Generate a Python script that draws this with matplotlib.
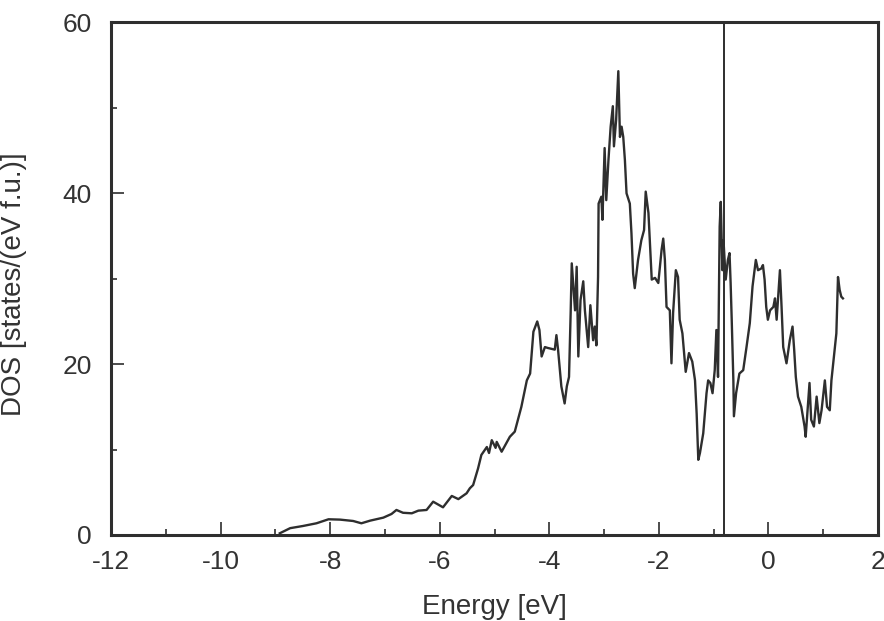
import matplotlib
matplotlib.use('Agg')
from matplotlib import pyplot as plt
from matplotlib.ticker import MultipleLocator

# values
energy = [-8.92, -8.73, -8.50, -8.25, -8.03, -7.82, -7.58, -7.43, -7.27, -7.03,
          -6.88, -6.79, -6.67, -6.51, -6.39, -6.24, -6.12, -5.94, -5.78, -5.66,
          -5.51, -5.45, -5.39, -5.30, -5.24, -5.14, -5.10, -5.05, -4.98, -4.96,
          -4.87, -4.72, -4.63, -4.51, -4.41, -4.35, -4.29, -4.22, -4.18, -4.14,
          -4.08, -4.03, -3.90, -3.87, -3.84, -3.78, -3.72, -3.68, -3.64, -3.61,
          -3.59, -3.53, -3.50, -3.47, -3.43, -3.38, -3.35, -3.29, -3.25, -3.20,
          -3.17, -3.14, -3.11, -3.10, -3.05, -3.03, -2.99, -2.96, -2.92, -2.88,
          -2.84, -2.82, -2.78, -2.74, -2.71, -2.68, -2.65, -2.62, -2.59, -2.53,
          -2.50, -2.47, -2.44, -2.38, -2.32, -2.27, -2.24, -2.19, -2.16, -2.13,
          -2.07, -2.01, -1.95, -1.92, -1.89, -1.86, -1.80, -1.77, -1.74, -1.69,
          -1.65, -1.62, -1.57, -1.51, -1.45, -1.39, -1.34, -1.31, -1.28, -1.25,
          -1.19, -1.13, -1.10, -1.06, -1.02, -0.98, -0.95, -0.92, -0.89, -0.87,
          -0.84, -0.82, -0.78, -0.74, -0.71, -0.69, -0.67, -0.64, -0.63, -0.59,
          -0.53, -0.46, -0.40, -0.34, -0.29, -0.23, -0.19, -0.13, -0.10, -0.07,
          -0.04, -0.01, 0.03, 0.09, 0.12, 0.15, 0.21, 0.24, 0.27, 0.33,
          0.39, 0.44, 0.47, 0.50, 0.54, 0.60, 0.66, 0.68, 0.72, 0.75,
          0.78, 0.83, 0.88, 0.93, 0.97, 1.03, 1.07, 1.12, 1.15, 1.21,
          1.24, 1.27, 1.30, 1.33, 1.36]
dos = [0.2, 0.8, 1.05, 1.37, 1.84, 1.8, 1.64, 1.37, 1.68, 2.03,
       2.46, 2.93, 2.6, 2.54, 2.85, 2.93, 3.9, 3.24, 4.57, 4.2,
       4.88, 5.47, 5.85, 7.8, 9.37, 10.3, 9.6, 11.1, 10.2, 10.9,
       9.75, 11.5, 12.1, 15.0, 18.1, 18.9, 23.8, 25.0, 24.0, 20.9,
       22.0, 21.9, 21.7, 23.4, 21.7, 17.4, 15.4, 17.4, 18.5, 26.0,
       31.8, 26.3, 31.4, 20.9, 27.5, 29.7, 26.3, 22.0, 26.9, 22.8,
       24.4, 22.2, 30.2, 38.8, 39.6, 36.9, 45.3, 39.2, 43.9, 47.8,
       50.2, 45.5, 48.6, 54.3, 46.6, 47.8, 46.6, 43.9, 40.0, 38.8,
       35.3, 30.6, 28.9, 32.2, 34.5, 35.7, 40.2, 37.7, 33.8, 29.9,
       30.1, 29.5, 33.4, 34.7, 32.2, 26.7, 26.3, 20.1, 26.0, 31.0,
       30.2, 25.2, 23.6, 19.1, 21.3, 20.3, 18.1, 14.2, 8.8, 9.6,
       11.9, 16.6, 18.1, 17.8, 16.6, 19.3, 24.0, 18.5, 36.1, 39.0,
       31.0, 34.5, 29.9, 32.2, 33.0, 29.5, 25.2, 18.1, 13.9, 16.6,
       18.9, 19.3, 22.0, 24.8, 29.1, 32.2, 31.0, 31.2, 31.6, 29.9,
       26.7, 25.2, 26.3, 26.7, 27.7, 25.2, 31.0, 26.7, 22.0, 20.1,
       22.8, 24.4, 21.7, 18.5, 16.2, 15.0, 12.7, 11.5, 15.0, 17.8,
       13.5, 12.7, 16.2, 13.1, 14.6, 18.1, 15.0, 14.6, 18.1, 21.7,
       23.6, 30.2, 28.7, 27.9, 27.7]
e_fermi = -0.81

plt.rcParams['font.family'] = ['Liberation Sans', 'DejaVu Sans']
plt.rcParams['axes.unicode_minus'] = False

fig = plt.figure(figsize=(8.84, 6.21), dpi=100)
ax = fig.add_axes([0.1256, 0.1385, 0.8676, 0.8253])

ax.plot(energy, dos, color='#2e2e2e', lw=1.7)
ax.axvline(e_fermi, color='#2e2e2e', lw=1.4)

ax.set_xlim(-12, 2)
ax.set_ylim(0, 60)
ax.xaxis.set_major_locator(MultipleLocator(2))
ax.xaxis.set_minor_locator(MultipleLocator(1))
ax.yaxis.set_major_locator(MultipleLocator(20))
ax.yaxis.set_minor_locator(MultipleLocator(10))
ax.tick_params(which='both', direction='in', width=1.2, color='#2e2e2e',
               labelsize=19, labelcolor='#333333')
ax.tick_params(which='major', length=9.5)
ax.tick_params(which='minor', length=4.5)
ax.tick_params(axis='x', pad=11)
ax.tick_params(axis='y', pad=14)
for s in ax.spines.values():
    s.set_linewidth(2.2)
    s.set_color('#2e2e2e')

ax.set_xlabel('Energy [eV]', fontsize=20, color='#333333', labelpad=14)
ax.set_ylabel('DOS [states/(eV f.u.)]', fontsize=20, color='#333333')
ax.yaxis.set_label_coords(-0.109, 0.49)

fig.savefig('out.png', dpi=100)
